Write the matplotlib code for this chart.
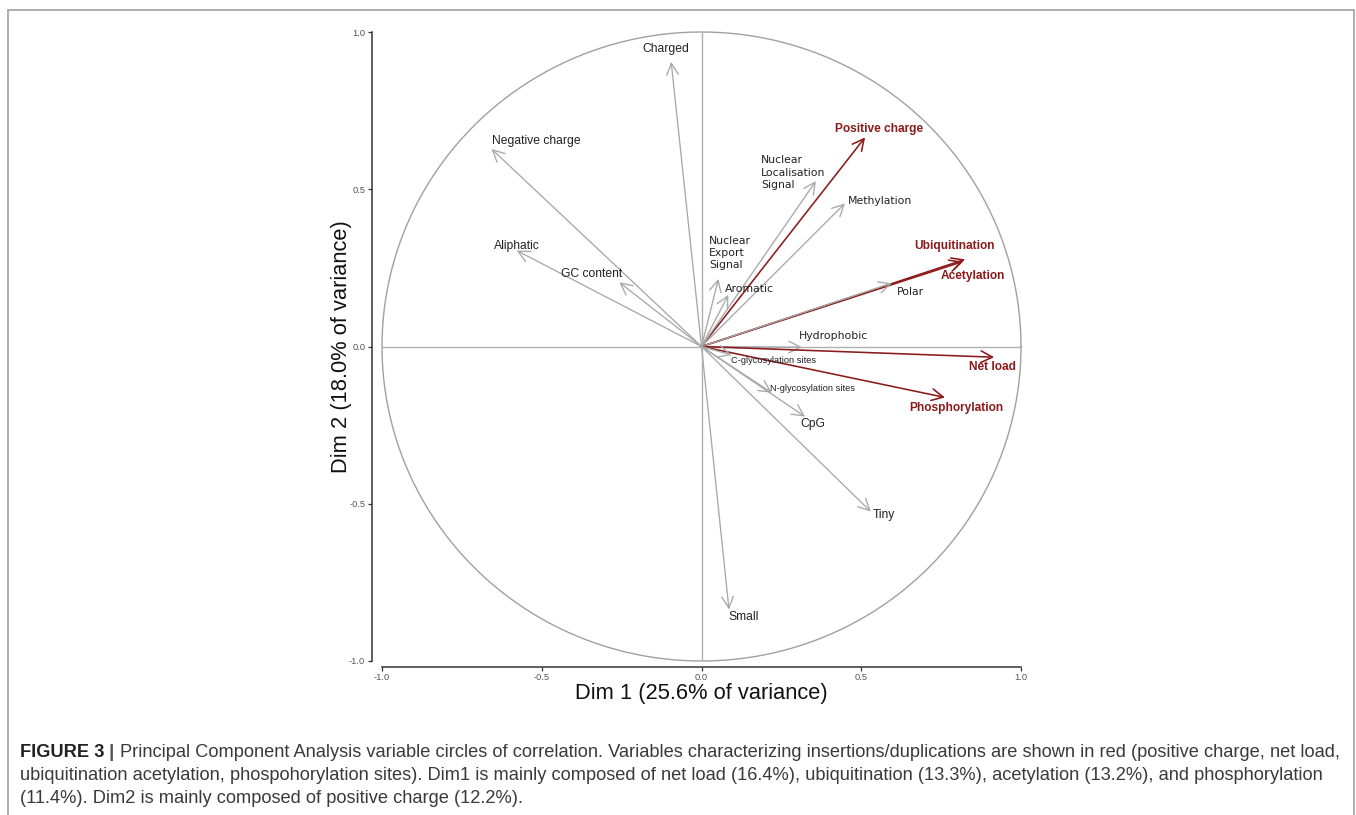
import numpy as np
import matplotlib
matplotlib.use("Agg")
import matplotlib.pyplot as plt
from matplotlib.patches import FancyArrowPatch, Rectangle
from matplotlib import font_manager

# ---------------- data ----------------
variables = ["Charged", "Negative charge", "Aliphatic", "GC content", "Positive charge",
             "Nuclear\nLocalisation\nSignal", "Methylation", "Ubiquitination", "Acetylation",
             "Polar", "Hydrophobic", "Net load", "Phosphorylation", "C-glycosylation sites",
             "N-glycosylation sites", "CpG", "Tiny", "Small", "Nuclear\nExport\nSignal", "Aromatic"]
dim1 = [-0.095, -0.657, -0.578, -0.257, 0.512, 0.358, 0.449, 0.825, 0.818, 0.595,
        0.314, 0.916, 0.762, 0.094, 0.220, 0.324, 0.530, 0.086, 0.053, 0.084]
dim2 = [0.905, 0.628, 0.305, 0.204, 0.665, 0.526, 0.455, 0.277, 0.270, 0.201,
        -0.002, -0.034, -0.162, -0.027, -0.147, -0.223, -0.525, -0.836, 0.215, 0.164]
highlight = [False, False, False, False, True, False, False, True, True, False,
             False, True, True, False, False, False, False, False, False, False]

x_ticks = [-1.0, -0.5, 0.0, 0.5, 1.0]
x_title = "Dim 1 (25.6% of variance)"
y_title = "Dim 2 (18.0% of variance)"

caption_bold = "FIGURE 3"
caption_sep = " | "
caption_lines = [
    "Principal Component Analysis variable circles of correlation. Variables characterizing insertions/duplications are shown in red (positive charge, net load,",
    "ubiquitination acetylation, phospohorylation sites). Dim1 is mainly composed of net load (16.4%), ubiquitination (13.3%), acetylation (13.2%), and phosphorylation",
    "(11.4%). Dim2 is mainly composed of positive charge (12.2%).",
]

# ---------------- layout (label placement, repel-like) ----------------
label_pos = {
    "Charged": (-0.111, 0.946, "center"),
    "Negative charge": (-0.518, 0.654, "center"),
    "Aliphatic": (-0.577, 0.320, "center"),
    "GC content": (-0.343, 0.231, "center"),
    "Positive charge": (0.556, 0.692, "center"),
    "Nuclear\nLocalisation\nSignal": (0.186, 0.552, "left"),
    "Methylation": (0.559, 0.463, "center"),
    "Ubiquitination": (0.793, 0.320, "center"),
    "Acetylation": (0.850, 0.224, "center"),
    "Polar": (0.653, 0.173, "center"),
    "Hydrophobic": (0.412, 0.033, "center"),
    "Net load": (0.912, -0.065, "center"),
    "Phosphorylation": (0.797, -0.196, "center"),
    "C-glycosylation sites": (0.224, -0.046, "center"),
    "N-glycosylation sites": (0.346, -0.135, "center"),
    "CpG": (0.349, -0.246, "center"),
    "Tiny": (0.571, -0.536, "center"),
    "Small": (0.133, -0.860, "center"),
    "Nuclear\nExport\nSignal": (0.0235, 0.297, "left"),
    "Aromatic": (0.149, 0.183, "center"),
}
dejavu_labels = {"Nuclear\nLocalisation\nSignal", "Methylation", "Polar", "Hydrophobic",
                 "Nuclear\nExport\nSignal", "Aromatic"}
narrow_labels = {"C-glycosylation sites", "N-glycosylation sites"}

available = {f.name for f in font_manager.fontManager.ttflist}
HAS_NARROW = "Liberation Sans Narrow" in available
NARROW = "Liberation Sans Narrow" if HAS_NARROW else "Liberation Sans"
NSCALE = 1.0 if HAS_NARROW else 0.85

W, H = 1356, 815
fig = plt.figure(figsize=(W / 100, H / 100), dpi=100)
fig.patch.set_facecolor("white")

# outer frame
fig.patches.append(Rectangle((8 / W, -0.05), (1354 - 8) / W, 1.05 - 10 / H,
                             transform=fig.transFigure, fill=False,
                             edgecolor="#a8a8a8", linewidth=1.3))

ax = fig.add_axes([382 / W, (H - 661) / H, (1021 - 382) / W, (661 - 32) / H])
ax.set_xlim(-1, 1)
ax.set_ylim(-1, 1)
for s in ["top", "right"]:
    ax.spines[s].set_visible(False)
ax.spines["left"].set_position(("outward", 7))
ax.spines["bottom"].set_position(("outward", 4))
for s in ["left", "bottom"]:
    ax.spines[s].set_color("#333333")
    ax.spines[s].set_linewidth(1.1)
ax.set_xticks(x_ticks)
ax.set_yticks(x_ticks)
ax.set_xticklabels([f"{t:.1f}" for t in x_ticks])
ax.set_yticklabels([f"{t:.1f}" for t in x_ticks])
ax.tick_params(length=3, width=0.9, color="#333333", labelsize=7.8 * NSCALE,
               labelcolor="#555555", pad=2)
for lab in ax.get_xticklabels() + ax.get_yticklabels():
    lab.set_family(NARROW)

# circle + axes lines
theta = np.linspace(0, 2 * np.pi, 400)
ax.plot(np.cos(theta), np.sin(theta), color="#a0a0a0", lw=1.0, clip_on=False)
ax.plot([-1, 1], [0, 0], color="#b0b0b0", lw=1.0)
ax.plot([0, 0], [-1, 1], color="#b0b0b0", lw=1.0)

RED = "#8b1a1a"
GREY = "#a8a8a8"
for name, x, y, hl in zip(variables, dim1, dim2, highlight):
    col = RED if hl else GREY
    arr = FancyArrowPatch((0, 0), (x, y), arrowstyle="->,head_length=0.55,head_width=0.28",
                          mutation_scale=15, color=col, lw=1.15 if hl else 0.95,
                          shrinkA=0, shrinkB=0, zorder=3)
    ax.add_patch(arr)
    lx, ly, ha = label_pos[name]
    if hl:
        ax.text(lx, ly, name, color=RED, fontsize=8.6, fontweight="bold",
                family="Liberation Sans", ha=ha, va="center", zorder=4)
    elif name in dejavu_labels:
        ax.text(lx, ly, name, color="#222222", fontsize=7.8, family="DejaVu Sans",
                ha=ha, va="center", linespacing=1.3, zorder=4)
    elif name in narrow_labels:
        ax.text(lx, ly, name, color="#222222", fontsize=7.9 * NSCALE, family=NARROW,
                ha=ha, va="center", zorder=4)
    else:
        ax.text(lx, ly, name, color="#222222", fontsize=8.7, family="Liberation Sans",
                ha=ha, va="center", zorder=4)

# axis titles
fig.text(701.5 / W, 1 - 694 / H, x_title, ha="center", va="center",
         fontsize=18.5 * NSCALE, family=NARROW, color="#111111")
fig.text(341 / W, 1 - 346.5 / H, y_title, ha="center", va="center", rotation=90,
         fontsize=18.5 * NSCALE, family=NARROW, color="#111111")

# caption
CAP_COL = "#3a3a3a"
cap_fs = 12.0
renderer = fig.canvas.get_renderer()
tb = fig.text(0, 0, caption_bold, fontsize=cap_fs, fontweight="bold", family="Liberation Sans")
ts = fig.text(0, 0, caption_sep, fontsize=cap_fs, family="Liberation Sans")
tr = fig.text(0, 0, caption_lines[0], fontsize=cap_fs, family="Liberation Sans")
wtot = sum(t.get_window_extent(renderer).width for t in (tb, ts, tr))
for t in (tb, ts, tr):
    t.remove()
cap_fs = cap_fs * 1320.0 / wtot

x0 = 20
baselines = [757, 780, 803]
xx = x0
for txt, kw, col in [(caption_bold, dict(fontweight="bold"), "#222222"),
                     (caption_sep, dict(fontweight="bold"), "#555555"),
                     (caption_lines[0], {}, CAP_COL)]:
    t = fig.text(xx / W, 1 - baselines[0] / H, txt, fontsize=cap_fs,
                 family="Liberation Sans", color=col, va="baseline", **kw)
    xx += t.get_window_extent(renderer).width
for line, b in zip(caption_lines[1:], baselines[1:]):
    fig.text(x0 / W, 1 - b / H, line, fontsize=cap_fs, family="Liberation Sans",
             color=CAP_COL, va="baseline")

fig.savefig("out.png", dpi=100, facecolor="white")
